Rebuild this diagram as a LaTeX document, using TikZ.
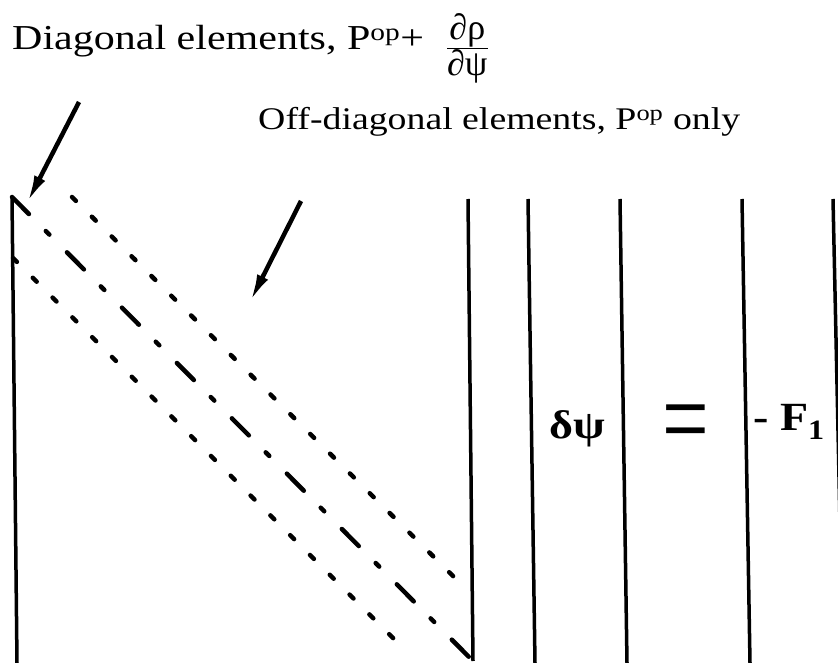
\documentclass[tikz,border=0pt]{standalone}
\usepackage{fontspec}
\setmainfont{Liberation Serif}
\usepackage{tikz}
\usetikzlibrary{arrows.meta}

\begin{document}
\begin{tikzpicture}[x=1pt,y=-1pt,
    bar/.style={line width=3.5pt},
    maindiag/.style={line width=4.5pt,line cap=round,
      dash pattern=on 24pt off 24pt on 5pt off 25pt},
    offdiag/.style={line width=4.5pt,line cap=round,
      dash pattern=on 5.5pt off 22.5pt},
    pointer/.style={line width=4.5pt,-{Latex[length=28pt,width=12pt]}},
    lbl/.style={inner sep=0pt,xscale=1.2,font=\fontsize{31.5}{36}\selectfont},
    entry/.style={inner sep=0pt,xscale=1.15,font=\bfseries\fontsize{40}{44}\selectfont}]
      \clip (0,0) rectangle (838,663);
      % labels
      \node (diaglbl) [lbl,font=\fontsize{35}{40}\selectfont,anchor=base west] at (12,50) {Diagonal elements, P\textsuperscript{op}+};
      \node (dfrac) [inner sep=0pt,font=\fontsize{36}{38}\selectfont,anchor=west] at (447,50)
        {\setlength{\arrayrulewidth}{1pt}\begin{tabular}{@{}c@{}}∂ρ\\[-3pt]\hline ∂ψ\end{tabular}};
      \node (offlbl) [lbl,anchor=base west] at (258,130) {Off-diagonal elements, P\textsuperscript{op} only};
      \coordinate (diagtail) at (79,102);
      \coordinate (diagtip) at (27,203);
      \coordinate (offtail) at (301,201);
      \coordinate (offtip) at (250,302);
      \draw [pointer] (diagtail) -- (diagtip);
      \draw [pointer] (offtail) -- (offtip);
%%
      % jacobian matrix
      \coordinate (NW) at (12,197);
      \coordinate (SW) at (17,663);
      \coordinate (NE) at (468,199);
      \coordinate (SE) at (473,661);
      \draw [bar] (SW) -- (NW);
      \draw [bar] (NE) -- (SE);
      \draw [maindiag] (NW) -- (SE);
      \draw [offdiag] (72,197) -- (462,585);
      \draw [offdiag] (13,258) -- (403,648);
%%
      % unknown and right-hand side vectors
      \draw [bar] (528,199) -- (535,663);
      \draw [bar] (620,199) -- (627,663);
      \draw [bar] (742,199) -- (750,663);
      \draw [bar] (833,199) -- (843,663);
      \node (dpsi) [entry] at (577,429) {δψ};
      \node (eq) [inner sep=0pt,font=\fontsize{72}{72}\selectfont,xscale=1.15,yscale=1.6] at (686,431) {=};
      \node (rhs) [entry,anchor=base west] at (753,430) {- F\textsubscript{1}};
    \end{tikzpicture}
\end{document}
